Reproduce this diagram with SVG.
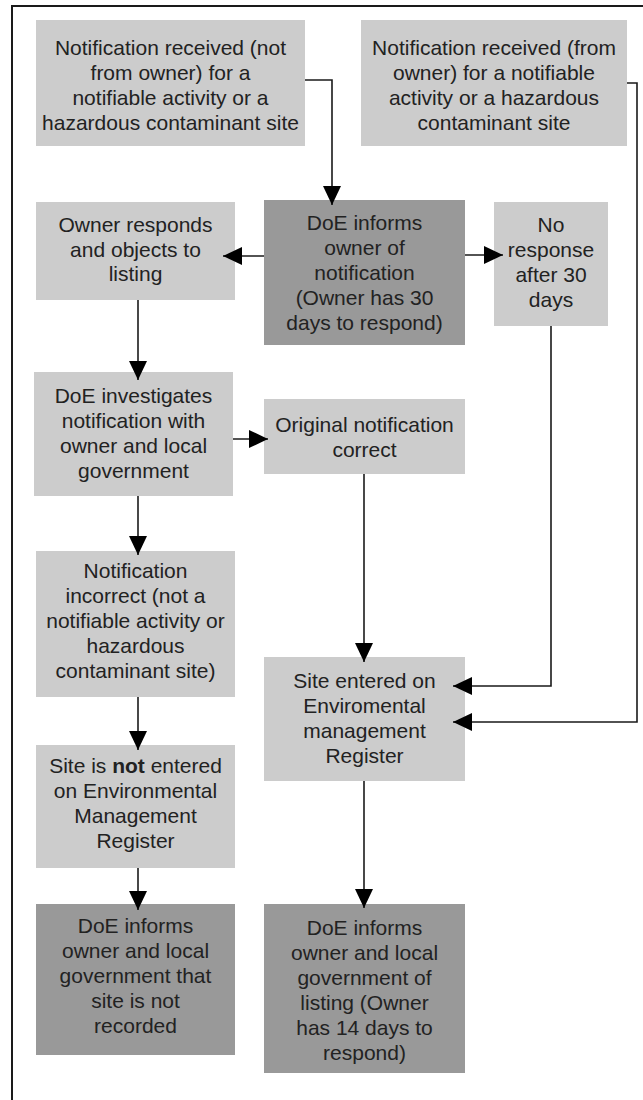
<svg xmlns="http://www.w3.org/2000/svg" width="643" height="1100" viewBox="0 0 643 1100">
<style>
.light{fill:#cccccc;}
.dark{fill:#999999;}
text{font-family:"Liberation Sans",Arial,sans-serif;font-size:21px;fill:#222222;text-anchor:middle;}
.c{fill:none;stroke:#1a1a1a;stroke-width:1.6;marker-end:url(#ah);}
.frame{fill:none;stroke:#1a1a1a;stroke-width:2;}
</style>
<defs>
<marker id="ah" markerUnits="userSpaceOnUse" markerWidth="20" markerHeight="18" refX="19" refY="9" orient="auto">
<path d="M0,0 L19,9 L0,18 z" fill="#000000"/>
</marker>
</defs>
<rect x="0" y="0" width="643" height="1100" fill="#ffffff"/>
<path class="frame" d="M12,1100 V6 H643"/>
<g id="n1"><rect class="light" x="36" y="20" width="269" height="126"/>
<text x="170.5" y="55">Notification received (not</text><text x="170.5" y="80">from owner) for a</text><text x="170.5" y="105">notifiable activity or a</text><text x="170.5" y="130">hazardous contaminant site</text></g>
<g id="n2"><rect class="light" x="361" y="20" width="266" height="126"/>
<text x="494" y="55">Notification received (from</text><text x="494" y="80">owner) for a notifiable</text><text x="494" y="105">activity or a hazardous</text><text x="494" y="130">contaminant site</text></g>
<g id="n3"><rect class="dark" x="264" y="200" width="201" height="145"/>
<text x="364.5" y="230">DoE informs</text><text x="364.5" y="255">owner of</text><text x="364.5" y="280">notification</text><text x="364.5" y="305">(Owner has 30</text><text x="364.5" y="330">days to respond)</text></g>
<g id="n4"><rect class="light" x="36" y="202" width="199" height="98"/>
<text x="135.5" y="232">Owner responds</text><text x="135.5" y="257">and objects to</text><text x="135.5" y="281">listing</text></g>
<g id="n5"><rect class="light" x="494" y="202" width="114" height="124"/>
<text x="551" y="232">No</text><text x="551" y="257">response</text><text x="551" y="282">after 30</text><text x="551" y="307">days</text></g>
<g id="n6"><rect class="light" x="34" y="372" width="199" height="124"/>
<text x="133.5" y="403">DoE investigates</text><text x="133.5" y="428">notification with</text><text x="133.5" y="453">owner and local</text><text x="133.5" y="478">government</text></g>
<g id="n7"><rect class="light" x="264" y="399" width="201" height="75"/>
<text x="364.5" y="432">Original notification</text><text x="364.5" y="457">correct</text></g>
<g id="n8"><rect class="light" x="36" y="551" width="199" height="146"/>
<text x="135.5" y="578">Notification</text><text x="135.5" y="603">incorrect (not a</text><text x="135.5" y="628">notifiable activity or</text><text x="135.5" y="653">hazardous</text><text x="135.5" y="678">contaminant site)</text></g>
<g id="n9"><rect class="light" x="264" y="657" width="201" height="124"/>
<text x="364.5" y="688">Site entered on</text><text x="364.5" y="713">Enviromental</text><text x="364.5" y="738">management</text><text x="364.5" y="763">Register</text></g>
<g id="n10"><rect class="light" x="36" y="745" width="199" height="123"/>
<text x="135.5" y="773">Site is <tspan font-weight="bold">not</tspan> entered</text><text x="135.5" y="798">on Environmental</text><text x="135.5" y="823">Management</text><text x="135.5" y="848">Register</text></g>
<g id="n11"><rect class="dark" x="36" y="904" width="199" height="151"/>
<text x="135.5" y="933">DoE informs</text><text x="135.5" y="958">owner and local</text><text x="135.5" y="983">government that</text><text x="135.5" y="1008">site is not</text><text x="135.5" y="1033">recorded</text></g>
<g id="n12"><rect class="dark" x="264" y="904" width="201" height="169"/>
<text x="364.5" y="935">DoE informs</text><text x="364.5" y="960">owner and local</text><text x="364.5" y="985">government of</text><text x="364.5" y="1010">listing (Owner</text><text x="364.5" y="1035">has 14 days to</text><text x="364.5" y="1060">respond)</text></g>
<g id="connectors">
<path class="c" d="M305,80 H332 V205"/>
<path class="c" d="M627,83 H637 V722 H453"/>
<path class="c" d="M264,256 H223"/>
<path class="c" d="M465,255 H503"/>
<path class="c" d="M551,326 V686 H453"/>
<path class="c" d="M138,300 V380"/>
<path class="c" d="M233,439 H268"/>
<path class="c" d="M364,474 V662"/>
<path class="c" d="M138,496 V555"/>
<path class="c" d="M138,697 V750"/>
<path class="c" d="M138,868 V910"/>
<path class="c" d="M364,781 V908"/>
</g>
</svg>
